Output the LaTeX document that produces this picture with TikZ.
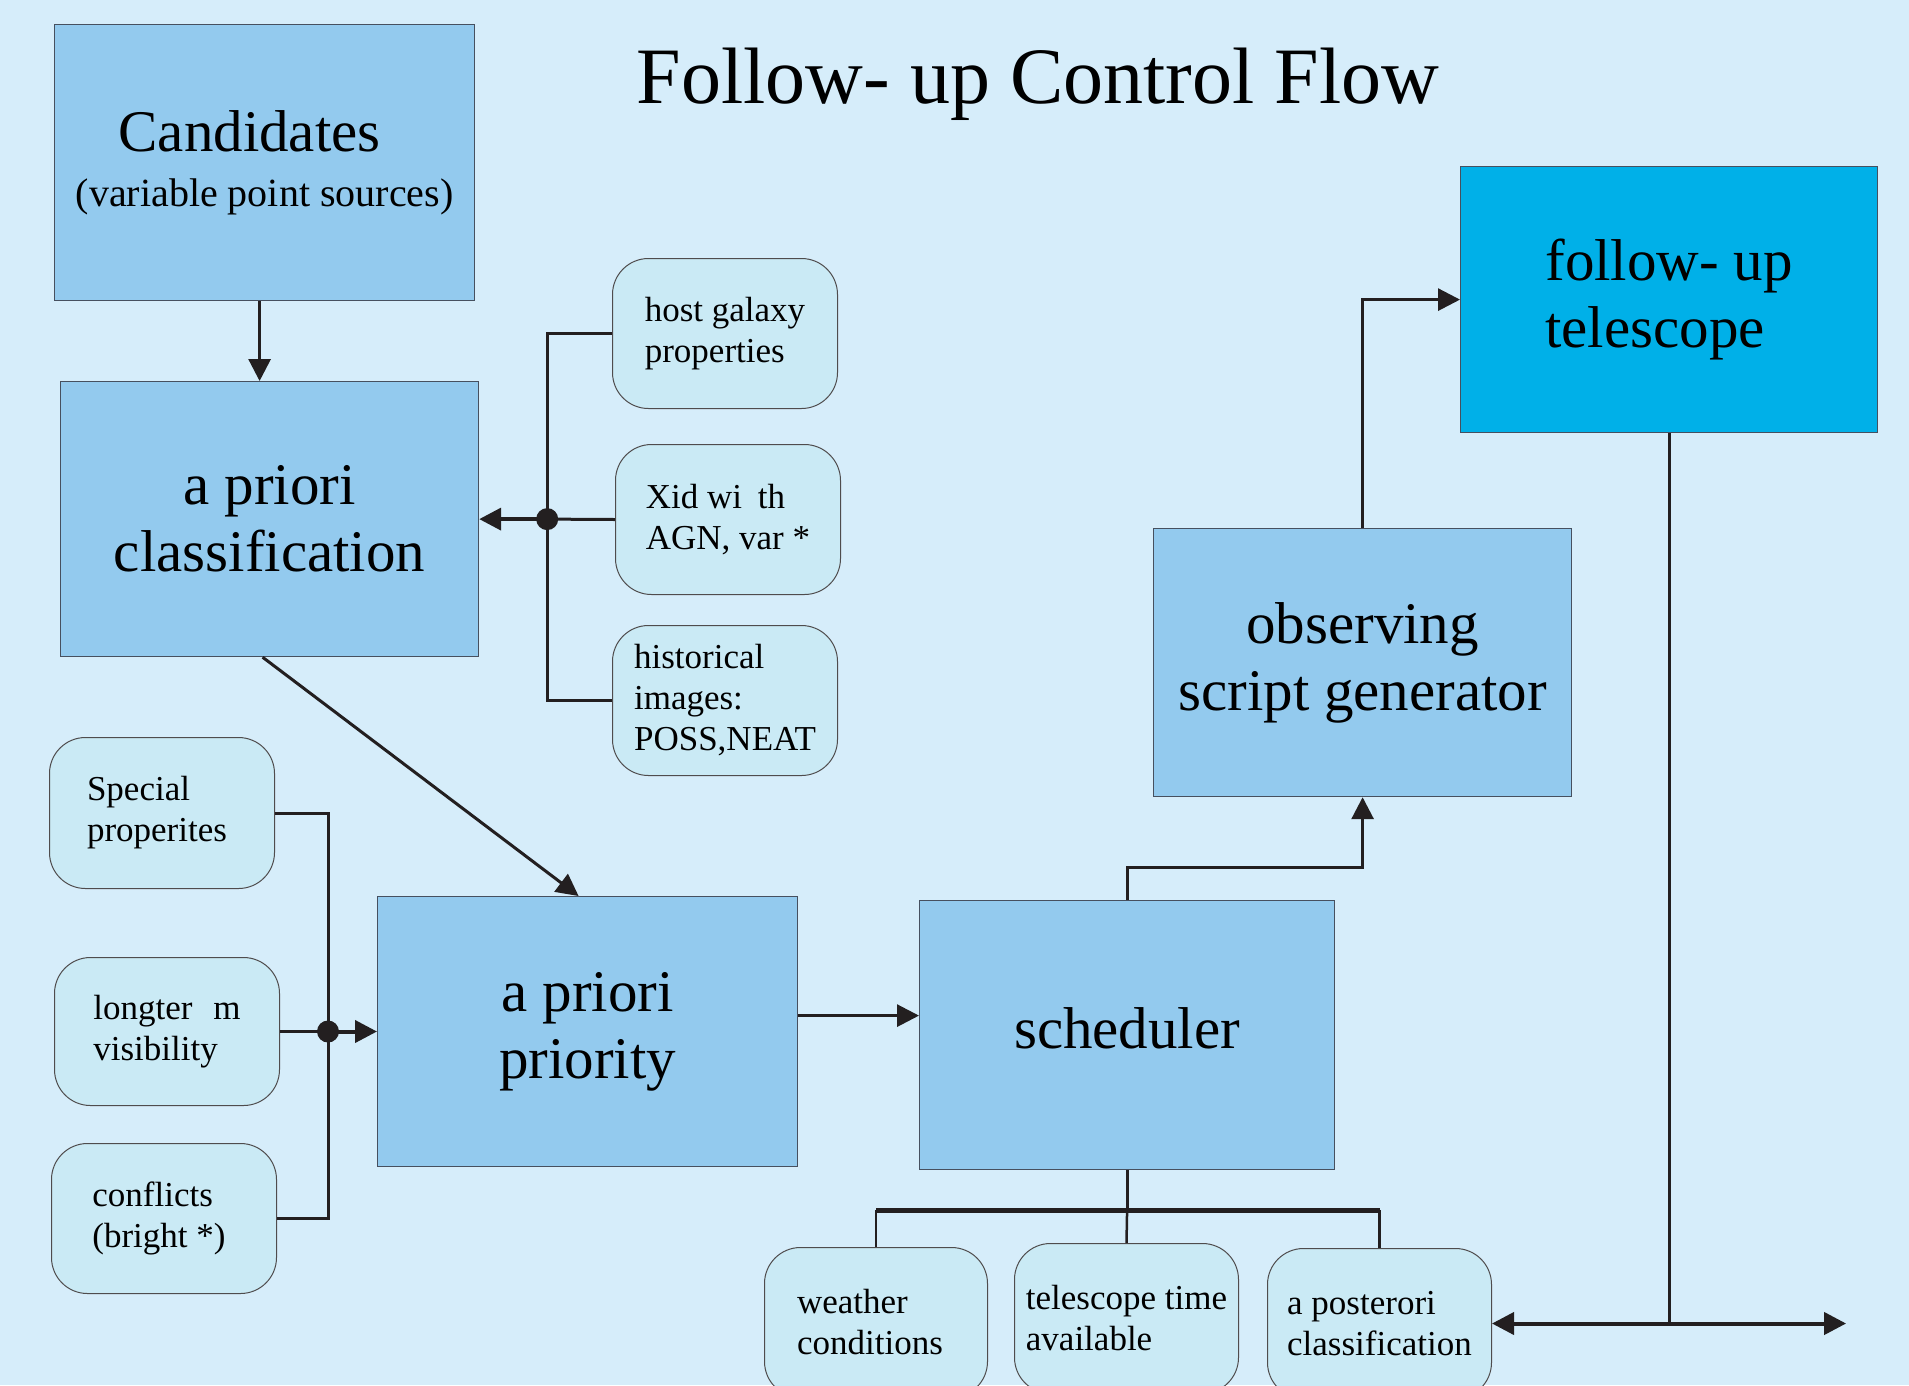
\documentclass[tikz,border=0pt]{standalone}
\usepackage{fontspec}
\setmainfont{Liberation Serif}
\usetikzlibrary{arrows.meta, positioning, calc}
\definecolor{skyback}{RGB}{214,237,250}
\definecolor{flowblue}{RGB}{147,202,238}
\definecolor{paleblue}{RGB}{202,234,245}
\definecolor{scopecyan}{RGB}{0,176,232}
\definecolor{edgegray}{RGB}{70,80,95}
\definecolor{inkdark}{RGB}{35,31,32}

\begin{document}
\begin{tikzpicture}[x=1pt, y=-1pt,
  fbox/.style={draw=edgegray, fill=flowblue, line width=1.2pt, anchor=north west, inner sep=0pt, align=center, font=\fontsize{59}{67}\selectfont},
  pbox/.style={draw=inkdark!80, fill=paleblue, line width=1pt, rounded corners=36pt, anchor=north west, inner sep=0pt, minimum width=225pt, align=left, font=\fontsize{35}{41}\selectfont},
  link/.style={draw=inkdark, line width=3pt},
  flowarrow/.style={-{Triangle[length=22pt, width=22pt]}},
  hub/.style={fill=inkdark}
]
  \clip (0,0) rectangle (1909,1385);
  \fill[skyback] (0,0) rectangle (1909,1385);

  \node[font=\fontsize{80}{84}\selectfont, anchor=base] (title) at (1038,103) {Follow- up Control Flow};

  \node[fbox, minimum width=420pt, minimum height=276pt] (cand) at (54,24) {\raisebox{10pt}{Candidates}\hspace*{30pt}\\[-22pt]{\fontsize{40}{47}\selectfont (variable point sources)}};
  \node[fbox, minimum width=418pt, minimum height=275pt] (aclass) at (60,381) {a priori\\classification};
  \node[fbox, minimum width=420pt, minimum height=270pt] (prio) at (377,896) {a priori\\priority};
  \node[fbox, minimum width=415pt, minimum height=269pt] (sched) at (919,900) {\raisebox{14pt}{scheduler}};
  \node[fbox, minimum width=418pt, minimum height=268pt] (obs) at (1153,528) {observing\\script generator};
  \node[fbox, fill=scopecyan, align=left, minimum width=417pt, minimum height=266pt] (tele) at (1460,166) {follow- up\\telescope};

  \node[pbox, minimum height=150pt] (host) at (612,258) {host galaxy\\properties};
  \node[pbox, minimum height=150pt] (xid) at (615,444) {Xid wi\hspace{0.45em}th\\AGN, var *};
  \node[pbox, minimum height=150pt] (hist) at (612,625) {historical\\images:\\POSS,NEAT};
  \node[pbox, minimum height=151pt] (spec) at (49,737) {Special\\properites\hspace*{10pt}};
  \node[pbox, minimum height=148pt] (longv) at (54,957) {longter\hspace{0.6em}m\\visibility};
  \node[pbox, minimum height=150pt] (confl) at (51,1143) {conflicts\\(bright *)\hspace*{10pt}};
  \node[pbox, minimum width=223pt, minimum height=150pt] (wthr) at (764,1247) {weather\\conditions\hspace*{12pt}};
  \node[pbox, minimum width=224pt, minimum height=150pt] (ttime) at (1014,1243) {telescope time\\available};
  \node[pbox, minimum width=224pt, minimum height=150pt] (post) at (1267,1248) {a posterori\\classification};

  \coordinate (jA) at ($(aclass.east)+(68,0)$);
  \coordinate (jB) at ($(longv.east)+(48,0)$);
  \coordinate (jC) at (tele.south |- post.east);
  \coordinate (tailE) at ($(jC)+(177,0)$);

  \draw[link, flowarrow] ([xshift=-5pt]cand.south) -- ([xshift=-5pt]cand.south |- aclass.north);
  \draw[link] (host.west) -| (jA) |- (hist.west);
  \draw[link] (xid.west) -- (jA);
  \draw[link, line width=4pt, flowarrow] (jA) -- (aclass.east);
  \fill[hub] (jA) circle (11pt);

  \draw[link, flowarrow] ([xshift=-7pt]aclass.south) -- ([xshift=-9pt]prio.north);
  \draw[link] (spec.east) -| (jB) |- (confl.east);
  \draw[link] (longv.east) -- (jB);
  \draw[link, line width=4pt, flowarrow] (jB) -- (jB -| prio.west);
  \fill[hub] (jB) circle (11pt);

  \draw[link, flowarrow] ([yshift=16pt]prio.east) -- ([yshift=16pt]prio.east -| sched.west);
  \draw[link, flowarrow] (sched.north) -- ++(0,-33) -| (obs.south);
  \draw[link, flowarrow] (obs.north) |- (tele.west);

  \draw[link] (tele.south) -- (jC);
  \draw[link, line width=4pt, flowarrow] (jC) -- (post.east);
  \draw[link, line width=4pt, flowarrow] (jC) -- (tailE);

  \draw[link] (sched.south) -- ++(0,40) coordinate (jD);
  \draw[link, line width=5pt] (wthr.north |- jD) -- (post.north |- jD);
  \draw[link, line width=2.5pt] (wthr.north) -- (wthr.north |- jD);
  \draw[link, line width=2.5pt] (ttime.north) -- (jD);
  \draw[link, line width=2.5pt] (post.north) -- (post.north |- jD);
\end{tikzpicture}
\end{document}
